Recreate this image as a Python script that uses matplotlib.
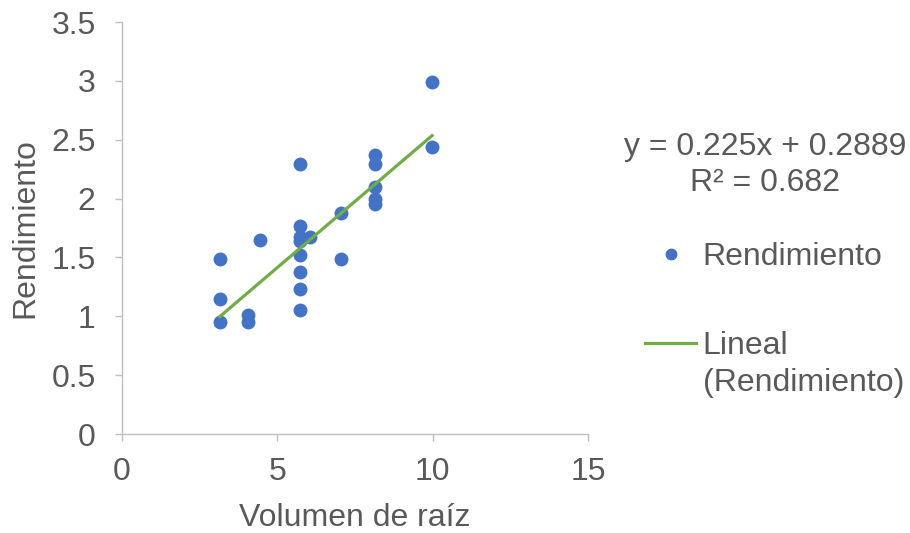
import matplotlib

matplotlib.use("Agg")

import matplotlib.pyplot as plt
from matplotlib.lines import Line2D

# Volumen de raíz vs Rendimiento
volumen = [3.15, 3.15, 3.15, 4.06, 4.06, 4.44, 5.73, 5.73, 5.73, 5.73, 6.05,
           5.73, 5.73, 5.73, 5.73, 7.05, 7.05, 8.14, 8.14, 8.14, 8.14, 8.14,
           9.98, 9.98]
rendimiento = [0.95, 1.15, 1.49, 1.01, 0.95, 1.65, 2.29, 1.77, 1.67, 1.64, 1.67,
               1.52, 1.38, 1.23, 1.05, 1.88, 1.49, 2.37, 2.29, 2.10, 2.00, 1.95,
               2.99, 2.44]

slope = 0.225
intercept = 0.2889
r2 = 0.682

x_ticks = [0, 5, 10, 15]
y_ticks = [0, 0.5, 1, 1.5, 2, 2.5, 3, 3.5]
y_tick_labels = ["0", "0.5", "1", "1.5", "2", "2.5", "3", "3.5"]

TEXT = "#595959"
AXIS = "#BFBFBF"
BLUE = "#4472C4"
GREEN = "#70AD47"

plt.rcParams["font.family"] = ["Liberation Sans", "DejaVu Sans"]

fig = plt.figure(figsize=(9.1, 5.33), dpi=100)
ax = fig.add_axes([122 / 910, 1 - 434 / 533, 466 / 910, 412 / 533])

ax.scatter(volumen, rendimiento, s=100, color=BLUE, zorder=3, linewidths=0)
x_fit = [min(volumen), max(volumen)]
y_fit = [slope * v + intercept for v in x_fit]
ax.plot(x_fit, y_fit, color=GREEN, linewidth=2.3, zorder=4)

ax.set_xlim(0, 15)
ax.set_ylim(0, 3.5)
ax.set_xticks(x_ticks)
ax.set_yticks(y_ticks)
ax.set_yticklabels(y_tick_labels)
for side in ["top", "right"]:
    ax.spines[side].set_visible(False)
for side in ["left", "bottom"]:
    ax.spines[side].set_color(AXIS)
    ax.spines[side].set_linewidth(1.0)
ax.tick_params(axis="both", colors=AXIS, labelcolor=TEXT, labelsize=23,
               length=5, width=1.0)
ax.tick_params(axis="y", pad=14)
ax.tick_params(axis="x", pad=11.5)

fig.text(25 / 910, 1 - 228 / 533, "Rendimiento", rotation=90, fontsize=23,
         color=TEXT, ha="center", va="center")
fig.text(355 / 910, 1 - 518 / 533, "Volumen de raíz", fontsize=23,
         color=TEXT, ha="center", va="center")

fig.text(765 / 910, 1 - 165 / 533,
         f"y = {slope}x + {intercept}\nR² = {r2}", fontsize=23, color=TEXT,
         ha="center", va="center", linespacing=1.25)

handles = [
    Line2D([], [], marker="o", linestyle="none", color=BLUE, markersize=7.5),
    Line2D([], [], color=GREEN, linewidth=2.3),
]
leg = fig.legend(handles, ["Rendimiento", "Lineal"],
                 loc="upper left", bbox_to_anchor=(645 / 910, 1 - 242 / 533),
                 frameon=False, fontsize=23, labelcolor=TEXT,
                 handlelength=1.6, handletextpad=0.2, labelspacing=1.85,
                 borderaxespad=0, borderpad=0)
fig.text(703 / 910, 1 - 383 / 533, "(Rendimiento)", fontsize=23, color=TEXT,
         ha="left", va="center")

fig.savefig("out.png", dpi=100)
